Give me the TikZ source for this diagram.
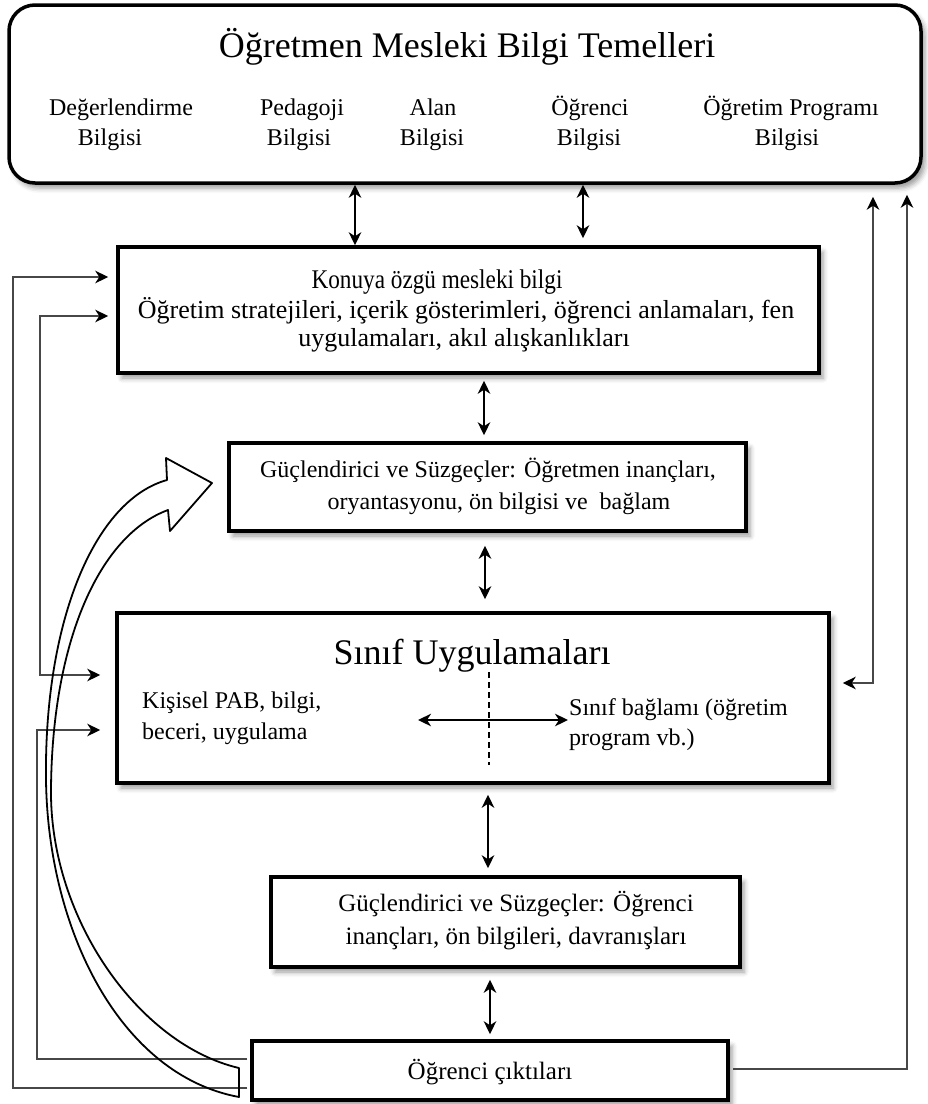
\documentclass[tikz,border=0pt]{standalone}
\usepackage{fontspec}
\setmainfont{Liberation Serif}
\usetikzlibrary{arrows.meta,shadows.blur}
\begin{document}
\begin{tikzpicture}[x=1pt,y=-1pt,
  >={Stealth[length=13pt,width=12.5pt,inset=4pt,color=black]},
  every node/.style={inner sep=0pt},
  box/.style={draw=black,line width=3.5pt,fill=white,inner sep=0pt,
    blur shadow={shadow xshift=4pt,shadow yshift=-5pt,shadow blur radius=5pt,shadow opacity=40}},
  link/.style={draw=black,line width=1.8pt,<->},
  side/.style={draw=black!72,line width=1.6pt},
  hollow/.style={draw=black,line width=1.8pt,line join=round},
  big/.style={font=\fontsize{36}{42}\selectfont},
  mid/.style={font=\fontsize{27}{32}\selectfont},
  body/.style={font=\fontsize{25}{30}\selectfont},
  wide/.style={font=\fontsize{26}{30}\selectfont},
  lbl/.style={font=\fontsize{24}{29}\selectfont}
]
\useasboundingbox (0,0) rectangle (928,1104);

% ---------- boxes ----------
\node[box,rounded corners=26pt,minimum width=912pt,minimum height=178pt] (top) at (465,94) {};
\node[box,minimum width=701pt,minimum height=126pt] (k)  at (468.5,310) {};
\node[box,minimum width=517pt,minimum height=88pt]  (g1) at (487.5,487) {};
\node[box,minimum width=712pt,minimum height=170pt] (s)  at (473,698) {};
\node[box,minimum width=469pt,minimum height=90pt]  (g2) at (505.5,922) {};
\node[box,minimum width=476pt,minimum height=59pt]  (o)  at (490,1070.5) {};

% ---------- texts: knowledge bases ----------
\node[big,anchor=base] (title) at (467,57) {Öğretmen Mesleki Bilgi Temelleri};
\node[lbl,anchor=base] (b1a) at (121,115) {Değerlendirme};
\node[lbl,anchor=base] (b1b) at (110,145) {Bilgisi};
\node[lbl,anchor=base] (b2a) at (302,115) {Pedagoji};
\node[lbl,anchor=base] (b2b) at (299,145) {Bilgisi};
\node[lbl,anchor=base] (b3a) at (433,115) {Alan};
\node[lbl,anchor=base] (b3b) at (432,145) {Bilgisi};
\node[lbl,anchor=base] (b4a) at (590,115) {Öğrenci};
\node[lbl,anchor=base] (b4b) at (589,145) {Bilgisi};
\node[lbl,anchor=base] (b5a) at (791,115) {Öğretim Programı};
\node[lbl,anchor=base] (b5b) at (787,145) {Bilgisi};

% ---------- texts: topic specific knowledge ----------
\node[mid,anchor=base] (kt)  at (437,288) {\scalebox{0.86}[1]{Konuya özgü mesleki bilgi}};
\node[wide,anchor=base] (k1) at (466,318) {Öğretim stratejileri, içerik gösterimleri, öğrenci anlamaları, fen};
\node[wide,anchor=base] (k2) at (464,346) {uygulamaları, akıl alışkanlıkları};

% ---------- texts: teacher amplifiers ----------
\node[lbl,anchor=base] (g1a) at (488,477) {Güçlendirici ve Süzgeçler: Öğretmen inançları,};
\node[lbl,anchor=base] (g1b) at (499,509) {oryantasyonu, ön bilgisi ve~ bağlam};

% ---------- texts: classroom practice ----------
\node[big,anchor=base] (st) at (472,664) {Sınıf Uygulamaları};
\node[lbl,anchor=base west] (sl1) at (142,708) {Kişisel PAB, bilgi,};
\node[lbl,anchor=base west] (sl2) at (142,739) {beceri, uygulama};
\node[lbl,anchor=base west] (sr1) at (569,715) {Sınıf bağlamı (öğretim};
\node[lbl,anchor=base west] (sr2) at (569,745) {program vb.)};

% ---------- texts: student amplifiers, outcomes ----------
\node[body,anchor=base] (g2a) at (516,911) {Güçlendirici ve Süzgeçler: Öğrenci};
\node[body,anchor=base] (g2b) at (516,944) {inançları, ön bilgileri, davranışları};
\node[body,anchor=base] (ot) at (490,1079) {Öğrenci çıktıları};

% ---------- vertical two-way links ----------
\coordinate (x1) at (355,0);
\coordinate (x2) at (583,0);
\coordinate (x3) at (484,0);
\coordinate (x4) at (485,0);
\coordinate (x5) at (488,0);
\coordinate (x6) at (490,0);
\draw[link] (top.south -| x1) -- (k.north -| x1);
\draw[link,shorten >=7pt] (top.south -| x2) -- (k.north -| x2);
\draw[link,shorten <=6pt,shorten >=6pt] (k.south -| x3) -- (g1.north -| x3);
\draw[link,shorten <=13pt,shorten >=12pt] (g1.south -| x4) -- (s.north -| x4);
\draw[link,shorten <=10pt,shorten >=7pt] (s.south -| x5) -- (g2.north -| x5);
\draw[link,shorten <=11pt,shorten >=5pt] (g2.south -| x6) -- (o.north -| x6);

% ---------- inside the classroom box ----------
\coordinate (dtop) at (489,672);
\coordinate (dbot) at (489,765);
\coordinate (hl) at (418,720);
\coordinate (hr) at (568,720);
\draw[black,line width=1.3pt,dash pattern=on 6pt off 4pt] (dtop) -- (dbot);
\draw[link] (hl) -- (hr);

% ---------- left feedback lines ----------
\coordinate (c11) at (13,1088);
\coordinate (c12) at (13,277);
\coordinate (c21) at (40,675);
\coordinate (c22) at (40,316);
\coordinate (c31) at (37,1059);
\coordinate (c32) at (37,730);
\draw[side,->,shorten <=3pt,shorten >=8pt] (o.west |- c11) -- (c11) -- (c12) -- (k.west |- c12);
\draw[side,<->,shorten <=15pt,shorten >=8pt] (s.west |- c21) -- (c21) -- (c22) -- (k.west |- c22);
\draw[side,->,shorten <=3pt,shorten >=15pt] (o.west |- c31) -- (c31) -- (c32) -- (s.west |- c32);

% ---------- right feedback lines ----------
\coordinate (c41) at (873,683);
\coordinate (c51) at (907,1069);
\draw[side,<->,shorten <=12pt,shorten >=12pt] (top.south -| c41) -- (c41) -- (s.east |- c41);
\draw[side,->,shorten <=3pt,shorten >=10pt] (o.east |- c51) -- (c51) -- (top.south -| c51);

% ---------- curved hollow arrow from outcomes up to teacher filters ----------
\draw[hollow] (239,1097)
  .. controls (120,1075) and (48,930) .. (46,780)
  .. controls (44,620) and (95,500) .. (167,480)
  -- (166,458) -- (212,483) -- (170,531) -- (168,510)
  .. controls (100,535) and (52,640) .. (51,790)
  .. controls (50,920) and (140,1045) .. (239,1068)
  -- cycle;
\end{tikzpicture}
\end{document}
